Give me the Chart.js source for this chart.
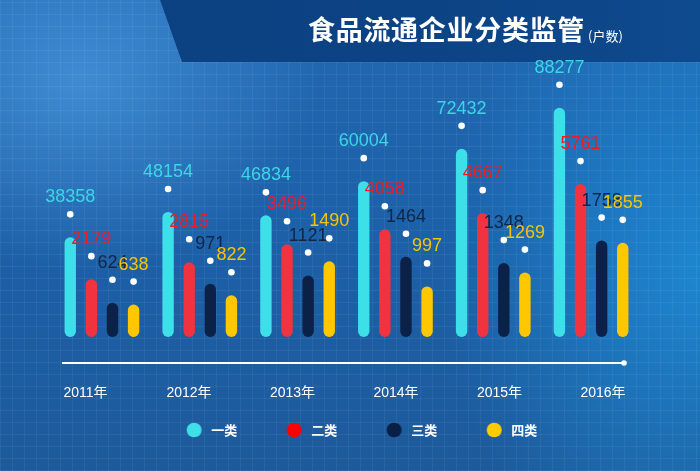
<!DOCTYPE html>
<html><head><meta charset="utf-8">
<script src="https://cdn.jsdelivr.net/npm/chart.js@4.4.1/dist/chart.umd.min.js"></script>
<style>
html,body{margin:0;padding:0;}
body{width:700px;height:471px;overflow:hidden;position:relative;
background:
 repeating-linear-gradient(0deg, rgba(255,255,255,0.055) 0 1px, transparent 1px 12px),
 repeating-linear-gradient(90deg, rgba(255,255,255,0.055) 0 1px, transparent 1px 12px),
 radial-gradient(ellipse 240px 190px at 80px 80px, rgba(90,170,240,0.55), transparent),
 radial-gradient(ellipse 260px 330px at 700px 270px, rgba(30,160,235,0.6), transparent),
 linear-gradient(180deg, #2169b3 0%, #1c60a8 50%, #1d5a9b 100%);
}
#band{position:absolute;left:0;top:0;width:700px;height:62px;background:linear-gradient(90deg,#0c4080,#0c4384 60%,#0e4a8e);clip-path:polygon(160px 0,700px 0,700px 62px,182px 62px);}
#wrap{position:absolute;left:0;top:0;width:700px;height:471px;}
</style></head>
<body><div id="band"></div><div id="wrap"><canvas id="c" width="700" height="471"></canvas></div>
<script>
const years = ['2011年','2012年','2013年','2014年','2015年','2016年'];
const seriesNames = ['一类','二类','三类','四类'];
const type1 = [38358,48154,46834,60004,72432,88277];
const type2 = [2179,2815,3496,4058,4667,5761];
const type3 = [624,971,1121,1464,1348,1758];
const type4 = [638,822,1490,997,1269,1855];
const barColors = ['#3ddfe9','#f0333f','#0c2147','#fec700'];
const labelColors = ['#3cd6e4','#ee1c24','#0f2649','#f6c500'];
const legendColors = ['#3fdfe8','#ff0000','#0a1f45','#ffcc00'];
const axisMax = [102800, 10060, 4870, 5260];
const seriesValues = [type1, type2, type3, type4];

const numFont = '"Liberation Sans", Arial, "Noto Sans CJK SC", sans-serif';
const cjkFont = '"Noto Sans CJK SC", "Liberation Sans", sans-serif';

// legend marker canvases
const legendDots = legendColors.map(c => {
  const cv = document.createElement('canvas');
  cv.width = 49; cv.height = 16;
  const g = cv.getContext('2d');
  g.fillStyle = c;
  g.beginPath(); g.ellipse(38.4, 8, 7.5, 7.3, 0, 0, Math.PI*2); g.fill();
  return cv;
});

const datasets = seriesValues.map((vals, i) => ({
  label: seriesNames[i],
  data: vals,
  backgroundColor: barColors[i],
  borderRadius: 20,
  borderSkipped: false,
  xAxisID: 'x',
  yAxisID: 'y' + i,
  categoryPercentage: 0.863,
  barPercentage: 0.54
}));

const scales = {
  x: { type: 'category', display: false, offset: true },
  x2: {
    type: 'linear', position: 'bottom', min: -0.314, max: 5.357, offset: false,
    grid: { display: false, drawTicks: false, offset: false }, border: { display: false },
    ticks: {
      stepSize: 1, includeBounds: false, padding: 3.5, color: '#ffffff',
      autoSkip: false, maxRotation: 0,
      font: { family: numFont, size: 14 },
      callback: v => (Number.isInteger(v) && years[v]) ? years[v] : ''
    }
  }
};
// zero line sits 44.1px above the bottom of a 311.1px plot area
axisMax.forEach((m, i) => { scales['y' + i] = { display: false, min: -m * 44.1 / 267, max: m }; });

const decorPlugin = {
  id: 'decor',
  afterDatasetsDraw(chart) {
    const ctx = chart.ctx;
    ctx.save();
    chart.data.datasets.forEach((ds, i) => {
      const meta = chart.getDatasetMeta(i);
      meta.data.forEach((bar, j) => {
        ctx.fillStyle = '#ffffff';
        ctx.beginPath(); ctx.arc(bar.x, bar.y - 23, 3.3, 0, Math.PI*2); ctx.fill();
        ctx.fillStyle = labelColors[i];
        ctx.font = '18px ' + numFont;
        ctx.textAlign = 'center'; ctx.textBaseline = 'middle';
        ctx.fillText(String(ds.data[j]), bar.x, bar.y - 40);
      });
    });
    // axis line
    const a = chart.chartArea;
    const ly = chart.scales.y0.getPixelForValue(0) + 26;
    ctx.strokeStyle = '#ffffff'; ctx.lineWidth = 2;
    ctx.beginPath(); ctx.moveTo(a.left + 9, ly); ctx.lineTo(a.right - 16, ly); ctx.stroke();
    ctx.fillStyle = '#ffffff';
    ctx.beginPath(); ctx.arc(a.right - 16, ly, 2.8, 0, Math.PI*2); ctx.fill();
    // title
    ctx.textAlign = 'left'; ctx.textBaseline = 'middle';
    ctx.fillStyle = '#ffffff';
    const title = '食品流通企业分类监管';
    ctx.font = 'bold 27px ' + cjkFont;
    const hasLS = ('letterSpacing' in ctx);
    if (hasLS) {
      ctx.letterSpacing = '0px';
      const w0 = ctx.measureText(title).width;
      const sp = Math.max(0, (277 - w0) / title.length);
      ctx.letterSpacing = sp.toFixed(2) + 'px';
    }
    ctx.fillText(title, 308, 30, 277);
    if (hasLS) ctx.letterSpacing = '0px';
    ctx.font = '13px ' + cjkFont;
    ctx.fillText('(户数)', 588, 36);
    ctx.restore();
  }
};

new Chart(document.getElementById('c'), {
  type: 'bar',
  data: { labels: years, datasets },
  options: {
    responsive: false,
    animation: false,
    layout: { padding: { top: 70, left: 53, right: 60, bottom: 24.5 } },
    scales,
    plugins: {
      title: { display: false },
      tooltip: { enabled: false },
      legend: {
        position: 'bottom',
        labels: {
          usePointStyle: true,
          pointStyleWidth: 48.9,
          boxHeight: 13,
          padding: 18.6,
          color: '#ffffff',
          font: { family: cjkFont, size: 13, weight: 'bold' },
          generateLabels(chart) {
            const items = Chart.defaults.plugins.legend.labels.generateLabels(chart);
            items.forEach((it, i) => { it.pointStyle = legendDots[i]; it.fontColor = '#ffffff'; });
            return items;
          }
        }
      }
    }
  },
  plugins: [decorPlugin]
});
</script>
</body></html>
